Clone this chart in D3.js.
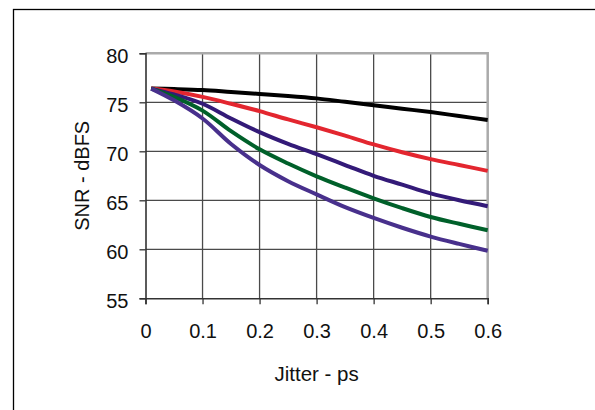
<!DOCTYPE html>
<html lang="en">
<head>
<meta charset="utf-8">
<title>SNR vs Jitter</title>
<style>
body { margin:0; background:#fff; }
text { font-family:"Liberation Sans", Arial, sans-serif; }
</style>
<script src="https://cdn.jsdelivr.net/npm/d3@7/dist/d3.min.js"></script>
</head>
<body>
<script>
// values
var jitter  = [0.01, 0.05, 0.1, 0.15, 0.2, 0.25, 0.3, 0.35, 0.4, 0.45, 0.5, 0.55, 0.6];
var snrBlack   = [76.4, 76.35, 76.25, 76.05, 75.85, 75.65, 75.4, 75.05, 74.7, 74.35, 74.0, 73.6, 73.2];
var snrRed     = [76.4, 76.1, 75.55, 74.85, 74.1, 73.25, 72.45, 71.6, 70.7, 69.9, 69.2, 68.6, 68.0];
var snrPurple1 = [76.4, 75.8, 74.85, 73.35, 71.95, 70.75, 69.7, 68.6, 67.5, 66.6, 65.7, 65.0, 64.4];
var snrGreen   = [76.4, 75.55, 74.15, 72.05, 70.2, 68.75, 67.45, 66.3, 65.2, 64.2, 63.3, 62.6, 61.95];
var snrPurple2 = [76.4, 75.2, 73.35, 70.75, 68.6, 66.95, 65.6, 64.3, 63.2, 62.2, 61.3, 60.55, 59.85];
var xTicks = [0, 0.1, 0.2, 0.3, 0.4, 0.5, 0.6];
var yTicks = [55, 60, 65, 70, 75, 80];

var series = [
    { values: snrBlack,   color: "#000000" },
    { values: snrRed,     color: "#e3262f" },
    { values: snrPurple1, color: "#331a78" },
    { values: snrGreen,   color: "#00602a" },
    { values: snrPurple2, color: "#48308c" }
];

var width = 595,
    height = 410;

var svg = d3.select("body").append("svg")
    .attr("width", width)
    .attr("height", height);

// outer frame, runs off the right and bottom edges
svg.append("rect")
    .attr("x", 13.5).attr("y", 9.5)
    .attr("width", 620).attr("height", 420)
    .style("fill", "none")
    .style("stroke", "#000")
    .style("stroke-width", "1.3px");

var x = d3.scaleLinear().domain([0, 0.6]).range([145.5, 487.7]);
var y = d3.scaleLinear().domain([55, 80]).range([298.3, 53.3]);

// grid
svg.selectAll("line.vgrid")
    .data(xTicks.slice(1, -1))
    .enter()
    .append("line")
        .attr("class", "vgrid")
        .attr("x1", function(d) { return x(d); })
        .attr("x2", function(d) { return x(d); })
        .attr("y1", y(80)).attr("y2", y(55))
        .style("stroke", "#4a4a4a")
        .style("stroke-width", "1.3px");

svg.selectAll("line.hgrid")
    .data(yTicks.slice(1, -1))
    .enter()
    .append("line")
        .attr("class", "hgrid")
        .attr("x1", x(0)).attr("x2", x(0.6))
        .attr("y1", function(d) { return y(d); })
        .attr("y2", function(d) { return y(d); })
        .style("stroke", "#4a4a4a")
        .style("stroke-width", "1.3px");

// light top and right border of plot
svg.append("path")
    .attr("d", "M" + x(0) + "," + y(80) + "H" + x(0.6) + "V" + y(55))
    .style("fill", "none")
    .style("stroke", "#aaaaaa")
    .style("stroke-width", "2.5px");

// axes
var xAxis = d3.axisBottom(x).tickValues(xTicks).tickSize(6).tickPadding(20)
    .tickFormat(function(d) { return d === 0 ? "0" : d3.format(".1f")(d); });
var yAxis = d3.axisLeft(y).tickValues(yTicks).tickSize(6).tickPadding(11)
    .tickFormat(d3.format("d"));

var gx = svg.append("g").attr("transform", "translate(0," + y(55) + ")").call(xAxis);
var gy = svg.append("g").attr("transform", "translate(" + x(0) + ",0)").call(yAxis);

[gx, gy].forEach(function(g) {
    g.select(".domain").style("stroke", "#333").style("stroke-width", "1.6px");
    g.selectAll(".tick line").style("stroke", "#333").style("stroke-width", "1.3px");
    g.selectAll(".tick text")
        .style("font-size", "20px")
        .style("fill", "#111")
        .style("font-family", "'Liberation Sans', Arial, sans-serif");
});
gy.selectAll(".tick text").attr("dy", "0.45em");

// curves
var line = d3.line()
    .x(function(d, i) { return x(jitter[i]); })
    .y(function(d) { return y(d); })
    .curve(d3.curveCatmullRom.alpha(0.5));

svg.selectAll("path.curve")
    .data(series)
    .enter()
    .append("path")
        .attr("class", "curve")
        .attr("d", function(d) { return line(d.values); })
        .style("fill", "none")
        .style("stroke", function(d) { return d.color; })
        .style("stroke-width", "4px");

// axis titles
svg.append("text")
    .attr("x", (x(0) + x(0.6)) / 2)
    .attr("y", 381)
    .attr("text-anchor", "middle")
    .style("font-size", "20.5px")
    .style("fill", "#111")
    .text("Jitter - ps");

svg.append("text")
    .attr("transform", "translate(89," + ((y(55) + y(80)) / 2) + ") rotate(-90)")
    .attr("text-anchor", "middle")
    .style("font-size", "20px")
    .style("fill", "#111")
    .text("SNR - dBFS");
</script>
</body>
</html>
